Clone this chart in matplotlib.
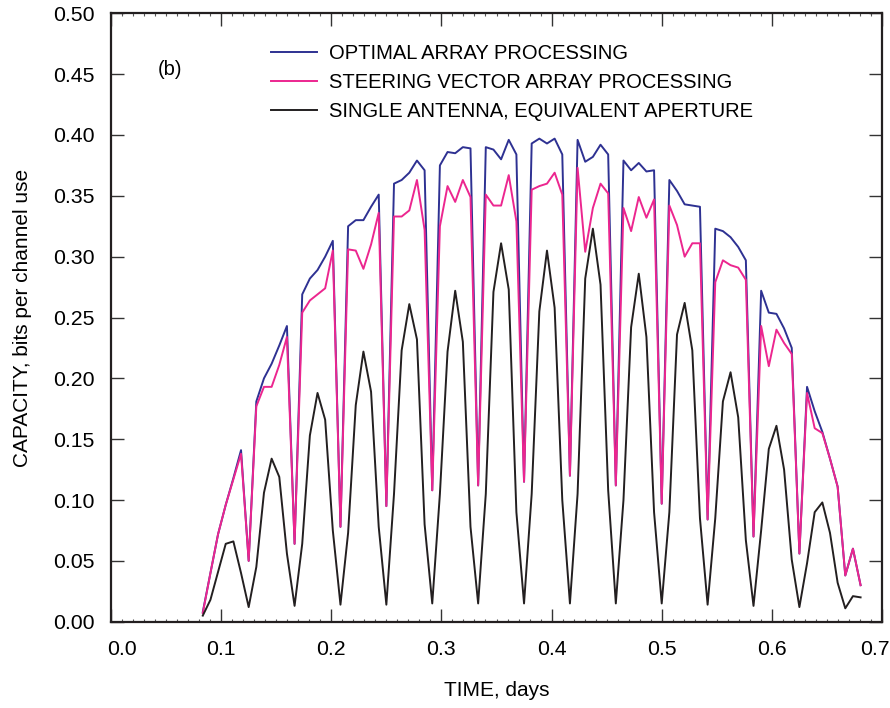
import numpy as np
import matplotlib
matplotlib.use("Agg")
import matplotlib.pyplot as plt
from matplotlib.ticker import MultipleLocator, FixedFormatter
from matplotlib.transforms import ScaledTranslation

plt.rcParams['font.family'] = ['Liberation Sans', 'DejaVu Sans']

# 10-minute samples, from sample 12 to sample 98 of the day
t_days = np.arange(12, 99) / 144.0

optimal = [0.008, 0.040, 0.072, 0.096, 0.118, 0.141,
           0.050, 0.181, 0.200, 0.212, 0.227, 0.243,
           0.064, 0.269, 0.282, 0.289, 0.300, 0.313,
           0.078, 0.325, 0.330, 0.330, 0.341, 0.351,
           0.095, 0.360, 0.363, 0.369, 0.379, 0.371,
           0.108, 0.375, 0.386, 0.385, 0.390, 0.389,
           0.112, 0.390, 0.388, 0.380, 0.396, 0.384,
           0.115, 0.393, 0.397, 0.393, 0.397, 0.384,
           0.120, 0.396, 0.378, 0.382, 0.392, 0.384,
           0.112, 0.379, 0.371, 0.377, 0.370, 0.371,
           0.097, 0.363, 0.354, 0.343, 0.342, 0.341,
           0.084, 0.323, 0.321, 0.316, 0.308, 0.297,
           0.070, 0.272, 0.254, 0.253, 0.241, 0.225,
           0.056, 0.193, 0.173, 0.156, 0.134, 0.111,
           0.038, 0.060, 0.030]

steering = [0.007, 0.040, 0.072, 0.096, 0.117, 0.138,
            0.050, 0.177, 0.193, 0.193, 0.211, 0.234,
            0.064, 0.254, 0.264, 0.269, 0.274, 0.305,
            0.078, 0.306, 0.305, 0.290, 0.310, 0.336,
            0.095, 0.333, 0.333, 0.338, 0.363, 0.322,
            0.108, 0.325, 0.358, 0.345, 0.363, 0.349,
            0.112, 0.351, 0.342, 0.342, 0.367, 0.329,
            0.115, 0.355, 0.358, 0.360, 0.369, 0.351,
            0.120, 0.373, 0.304, 0.340, 0.360, 0.352,
            0.112, 0.340, 0.321, 0.349, 0.332, 0.347,
            0.097, 0.342, 0.326, 0.300, 0.311, 0.311,
            0.084, 0.279, 0.297, 0.293, 0.291, 0.281,
            0.070, 0.243, 0.210, 0.240, 0.229, 0.220,
            0.056, 0.188, 0.159, 0.155, 0.134, 0.111,
            0.038, 0.060, 0.030]

single = [0.005, 0.018, 0.041, 0.064, 0.066, 0.040,
          0.012, 0.045, 0.106, 0.134, 0.119, 0.056,
          0.013, 0.064, 0.153, 0.188, 0.166, 0.075,
          0.014, 0.073, 0.178, 0.222, 0.189, 0.078,
          0.014, 0.105, 0.223, 0.261, 0.232, 0.080,
          0.015, 0.105, 0.222, 0.272, 0.230, 0.078,
          0.015, 0.105, 0.271, 0.311, 0.273, 0.090,
          0.015, 0.105, 0.255, 0.305, 0.258, 0.100,
          0.015, 0.105, 0.282, 0.323, 0.277, 0.108,
          0.015, 0.100, 0.242, 0.286, 0.234, 0.090,
          0.015, 0.090, 0.236, 0.262, 0.223, 0.085,
          0.014, 0.085, 0.181, 0.205, 0.168, 0.067,
          0.013, 0.075, 0.142, 0.161, 0.125, 0.051,
          0.012, 0.048, 0.090, 0.098, 0.073, 0.032,
          0.011, 0.021, 0.020]

x_ticks = [0.0, 0.1, 0.2, 0.3, 0.4, 0.5, 0.6, 0.7]
x_ticklabels = ["0.0", "0.1", "0.2", "0.3", "0.4", "0.5", "0.6", "0.7"]

labels = ["OPTIMAL ARRAY PROCESSING",
          "STEERING VECTOR ARRAY PROCESSING",
          "SINGLE ANTENNA, EQUIVALENT APERTURE"]
colors = ["#2e3192", "#ec268f", "#231f20"]

fig = plt.figure(figsize=(8.9, 7.08), dpi=100)
ax = fig.add_axes([111/890, 86.3/708, 771/890, 608.4/708])

for ys, lab, c in zip([optimal, steering, single], labels, colors):
    ax.plot(t_days, ys, color=c, lw=1.4, label=lab)

ax.set_xlim(0, 0.7)
ax.set_ylim(0, 0.5)
ax.set_xticks(x_ticks)
# the two end labels are drawn separately so they stay inside the frame
ax.xaxis.set_major_formatter(FixedFormatter([""] + x_ticklabels[1:-1] + [""]))
ax.xaxis.set_minor_locator(MultipleLocator(0.01))
ax.yaxis.set_major_locator(MultipleLocator(0.05))
ax.yaxis.set_major_formatter(plt.FormatStrFormatter('%.2f'))

tick_fs = 15.3
ax.tick_params(axis='x', which='major', direction='in', length=9.5, width=1.0,
               top=True, pad=13, labelsize=tick_fs, color='#333333')
ax.tick_params(axis='x', which='minor', direction='in', length=2.5, width=0.8,
               top=True, color='#555555')
ax.tick_params(axis='y', which='major', direction='in', length=9.5, width=1.0,
               right=True, pad=12, labelsize=tick_fs, color='#333333')
for s in ax.spines.values():
    s.set_linewidth(1.6)
    s.set_color('#231f20')

trans, va, ha = ax.get_xaxis_text1_transform(13)
ax.text(x_ticks[0], 0, x_ticklabels[0], fontsize=tick_fs, va=va, ha='center',
        transform=trans + ScaledTranslation(0.105, 0, fig.dpi_scale_trans))
ax.text(x_ticks[-1], 0, x_ticklabels[-1], fontsize=tick_fs, va=va, ha='center',
        transform=trans + ScaledTranslation(-0.07, 0, fig.dpi_scale_trans))

ax.set_xlabel("TIME, days", fontsize=15, labelpad=16)
ax.set_ylabel("CAPACITY, bits per channel use", fontsize=15, labelpad=15)

ax.text(0.0765, 0.907, "(b)", transform=ax.transAxes, ha='center', va='center',
        fontsize=14.5)

ax.legend(loc='upper left', bbox_to_anchor=(0.2075, 0.949), frameon=False,
          fontsize=14.5, handlelength=2.3, handletextpad=0.6, labelspacing=0.5,
          borderpad=0, borderaxespad=0)

fig.savefig("out.png", dpi=100)
